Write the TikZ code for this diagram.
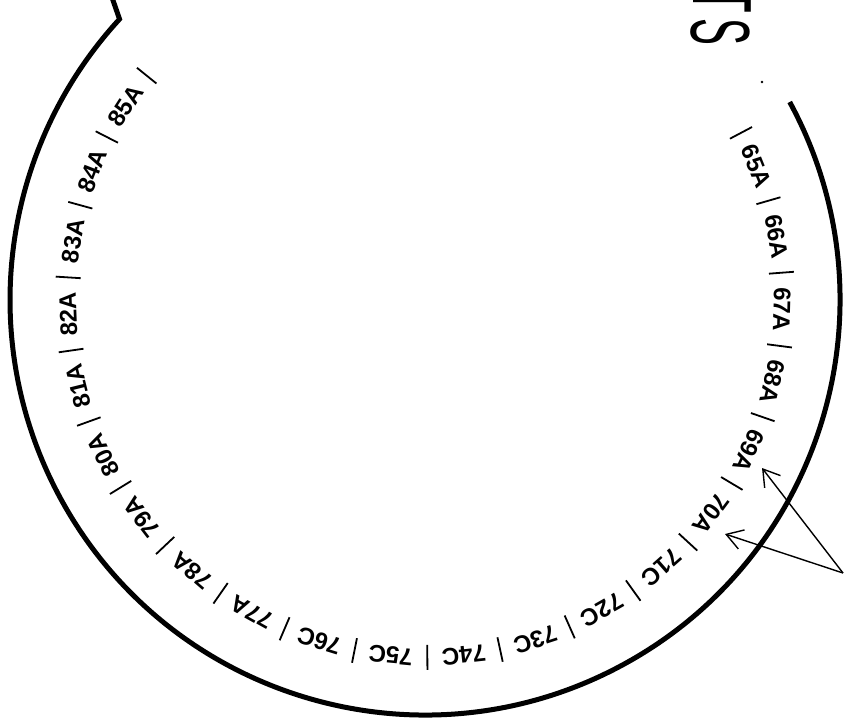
\documentclass[tikz,border=0pt]{standalone}
\usepackage{fontspec}
\usepackage{graphicx}
\setmainfont{Liberation Sans}
\usetikzlibrary{arrows.meta}
\begin{document}
\begin{tikzpicture}[x=1pt,y=1pt,
  lab/.style={font=\fontsize{24}{24}\selectfont\bfseries, inner sep=0pt},
  big/.style={font=\fontsize{84}{84}\selectfont, inner sep=0pt, rotate=-90},
  sepline/.style={line width=1.8pt},
  ring/.style={line width=5pt},
  arr/.style={line width=1.4pt, -{Straight Barb[length=16pt,width=20pt]}}]
\useasboundingbox (0,0) rectangle (844,-728);
\clip (0,0) rectangle (844,-728);
\coordinate (C) at (425,-300);
% ring
\draw[ring] ([shift={(28.5:415)}]C) arc[start angle=28.5, end angle=-222.6, radius=415] -- ++(-8,23);
% labels
\foreach \t [count=\i from 0] in {65A,66A,67A,68A,69A,70A,71C,72C,73C,74C,75C,76C,77A,78A,79A,80A,81A,82A,83A,84A,85A} {
  \pgfmathsetmacro\a{22-11.75*\i}
  \node[lab, rotate=\a-90] (l\t) at ([shift={(\a:357)}]C) {\t};
}
% separators
\foreach \i in {0,...,21} {
  \pgfmathsetmacro\b{27.875-11.75*\i}
  \draw[sepline] ([shift={(\b:345)}]C) -- ([shift={(\b:370)}]C);
}
% big letters
\node[big] (tT) at (722,-1) {\scalebox{0.48}[1]{T}};
\node[big] (tS) at (720,-31.5) {\scalebox{0.48}[1]{S}};
% speck
\fill (762,-82) circle (1.3);
% arrows
\coordinate (src) at (843,-573);
\coordinate (t69) at (762,-468);
\coordinate (t70) at (725,-534);
\draw[arr] (src) -- (t69);
\draw[arr] (src) -- (t70);
\end{tikzpicture}
\end{document}
